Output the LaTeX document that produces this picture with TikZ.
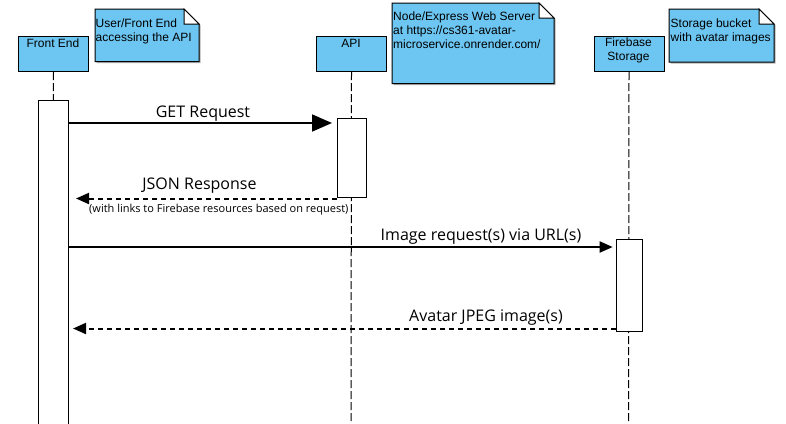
\documentclass[tikz,border=0pt]{standalone}
\usepackage{fontspec}
\setmainfont{Liberation Sans}
\newfontfamily\osans{Open Sans}
\usetikzlibrary{arrows.meta}
\definecolor{headblue}{RGB}{109,198,242}
\newcommand\mynote[4]{%
  \fill[gray!60] (#1+1.5,#2+1.5) -- (#3+1.5-15,#2+1.5) -- (#3+1.5,#2+16.5) -- (#3+1.5,#4+1.5) -- (#1+1.5,#4+1.5) -- cycle;
  \draw[notefill] (#1,#2) -- (#3-15,#2) -- (#3,#2+15) -- (#3,#4) -- (#1,#4) -- cycle;
  \draw[line width=1pt,fill=white,line join=miter] (#3-15,#2) -- (#3-15,#2+15) -- (#3,#2+15) -- cycle;}
\begin{document}
\begin{tikzpicture}[x=1pt,y=-1pt,
  headbox/.style={draw=black,fill=headblue,line width=1pt,minimum width=70pt,minimum height=35pt,anchor=north west,inner sep=0pt},
  headtext/.style={font=\fontsize{12}{14}\selectfont,anchor=base,inner sep=0pt,align=center},
  notetext/.style={font=\fontsize{12}{14}\selectfont,anchor=north west,inner sep=0pt,align=left},
  notefill/.style={draw=black,fill=headblue,line width=1pt},
  actbox/.style={draw=black,fill=white,line width=1pt,anchor=north west,inner sep=0pt},
  lifeline/.style={draw=black,line width=1pt,dash pattern=on 8pt off 3pt},
  msg/.style={draw=black,line width=1.8pt},
  reply/.style={draw=black,line width=2pt,dash pattern=on 5pt off 4pt},
  lbl/.style={font=\osans\fontsize{16}{19}\selectfont,anchor=base,inner sep=0pt},
  smalllbl/.style={font=\osans\fontsize{11}{13}\selectfont,anchor=base,inner sep=0pt},
  smalltip/.style={-{Triangle[length=13pt,width=11pt]}}]
\useasboundingbox (0,0) rectangle (786,423);

% notes
\mynote{95}{9}{199}{61.5}
\mynote{392}{3}{554}{83.5}
\mynote{669}{9}{774}{62}
\node[notetext] (n1t) at (95.5,18.3) {\rule{0pt}{9pt}User/Front End\\accessing the API};
\node[notetext] (n2t) at (393,11.7) {\rule{0pt}{9pt}Node/Express Web Server\\at https://cs361-avatar-\\microservice.onrender.com/};
\node[notetext] (n3t) at (670.5,18.3) {\rule{0pt}{9pt}Storage bucket\\with avatar images};

% heads
\node[headbox] (fe) at (18,36) {};
\node[headbox] (api) at (316,36) {};
\node[headbox] (fb) at (593.5,36) {};
\node[headtext] (fet) at (53,47.3) {Front End};
\node[headtext] (apit) at (351,47.3) {API};
\node[headtext,anchor=north] (fbt) at (628.5,37.7) {\rule{0pt}{9pt}Firebase\\Storage};

% lifelines
\coordinate (feend) at (53,423);
\coordinate (apiend) at (351,423);
\coordinate (fbend) at (628.5,423);
\draw[lifeline] (fe.south) -- (feend);
\draw[lifeline] (api.south) -- (apiend);
\draw[lifeline] (fb.south) -- (fbend);

% activations
\node[actbox,minimum width=30pt,minimum height=326pt] (feact) at (38,100) {};
\node[actbox,minimum width=29pt,minimum height=79.5pt] (apiact) at (337,117.5) {};
\node[actbox,minimum width=26pt,minimum height=92pt] (fbact) at (615.7,239) {};

% messages
\coordinate (gets) at ([yshift=-23pt]feact.north east);
\coordinate (gete) at ([yshift=-5.5pt]apiact.north west);
\draw[msg,-{Triangle[length=20pt,width=17pt]},shorten >=5pt] (gets) -- (gete);

\coordinate (jss) at ([yshift=-0.5pt]apiact.south west);
\draw[reply,smalltip,shorten >=7pt] (jss) -- (feact.east |- jss);

\coordinate (imgs) at ([yshift=-147pt]feact.north east);
\coordinate (imge) at ([yshift=-8pt]fbact.north west);
\draw[msg,smalltip,shorten >=3pt] (imgs) -- (imge);

\coordinate (avs) at ([yshift=3.5pt]fbact.south west);
\draw[reply,smalltip,shorten >=4pt] (avs) -- (feact.east |- avs);

% labels
\node[lbl] (getl) at (203,117.5) {GET Request};
\node[lbl] (jsonl) at (199.5,189.3) {JSON Response};
\node[smalllbl] (jsonl2) at (218.8,212) {(with links to Firebase resources based on request)};
\node[lbl] (imgl) at (481,240.7) {Image request(s) via URL(s)};
\node[lbl] (avl) at (486,321.7) {Avatar JPEG image(s)};
\end{tikzpicture}
\end{document}
